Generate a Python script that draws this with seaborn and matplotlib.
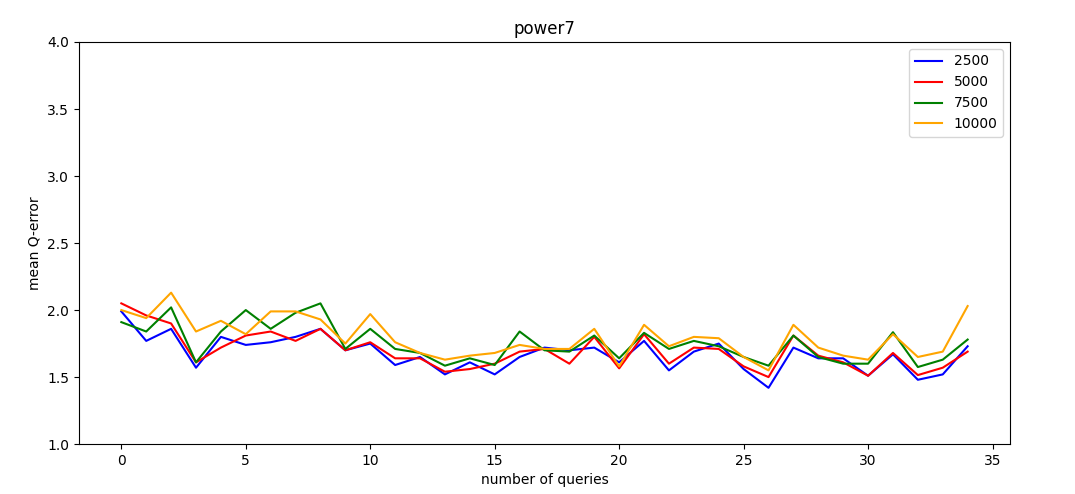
import numpy as np
import pandas as pd
import matplotlib
matplotlib.use("Agg")
import matplotlib.pyplot as plt
import seaborn as sns

queries = list(range(35))
s2500 = [1.99, 1.77, 1.86, 1.57, 1.80, 1.74, 1.76, 1.80, 1.86, 1.70, 1.75, 1.59, 1.65, 1.52, 1.61, 1.52,
         1.65, 1.72, 1.70, 1.72, 1.61, 1.77, 1.55, 1.69, 1.75, 1.56, 1.42, 1.72, 1.64, 1.64, 1.51, 1.67,
         1.48, 1.52, 1.73]
s5000 = [2.05, 1.96, 1.90, 1.61, 1.72, 1.81, 1.84, 1.77, 1.86, 1.70, 1.76, 1.64, 1.64, 1.54, 1.56, 1.60,
         1.69, 1.71, 1.60, 1.80, 1.565, 1.82, 1.60, 1.72, 1.71, 1.58, 1.50, 1.81, 1.66, 1.61, 1.51, 1.68,
         1.515, 1.57, 1.69]
s7500 = [1.91, 1.84, 2.02, 1.61, 1.84, 2.00, 1.86, 1.98, 2.05, 1.71, 1.86, 1.71, 1.68, 1.585, 1.64, 1.59,
         1.84, 1.70, 1.69, 1.81, 1.64, 1.83, 1.71, 1.77, 1.73, 1.65, 1.585, 1.81, 1.65, 1.60, 1.60, 1.835,
         1.575, 1.63, 1.78]
s10000 = [2.00, 1.94, 2.13, 1.84, 1.92, 1.82, 1.99, 1.99, 1.93, 1.75, 1.97, 1.76, 1.68, 1.63, 1.66, 1.68,
          1.74, 1.71, 1.71, 1.86, 1.58, 1.89, 1.73, 1.80, 1.79, 1.65, 1.55, 1.89, 1.72, 1.66, 1.63, 1.82,
          1.65, 1.69, 2.03]
series_names = ["2500", "5000", "7500", "10000"]
colors = ["blue", "red", "green", "orange"]

frames = []
for name, vals in zip(series_names, [s2500, s5000, s7500, s10000]):
    frames.append(pd.DataFrame({"query": queries, "value": vals, "series": name}))
df = pd.concat(frames, ignore_index=True)

fig = plt.figure(figsize=(10.75, 4.94), dpi=100)
ax = fig.add_axes([0.0735, 0.101, 0.866, 0.814])
sns.lineplot(data=df, x="query", y="value", hue="series", hue_order=series_names,
             palette=dict(zip(series_names, colors)), ax=ax, linewidth=1.5)
ax.set_ylim(1.0, 4.0)
ax.set_title("power7", fontsize=12)
ax.set_xlabel("number of queries")
ax.set_ylabel("mean Q-error")
leg = ax.legend(loc="upper right")
fig.savefig("out.png", dpi=100)
